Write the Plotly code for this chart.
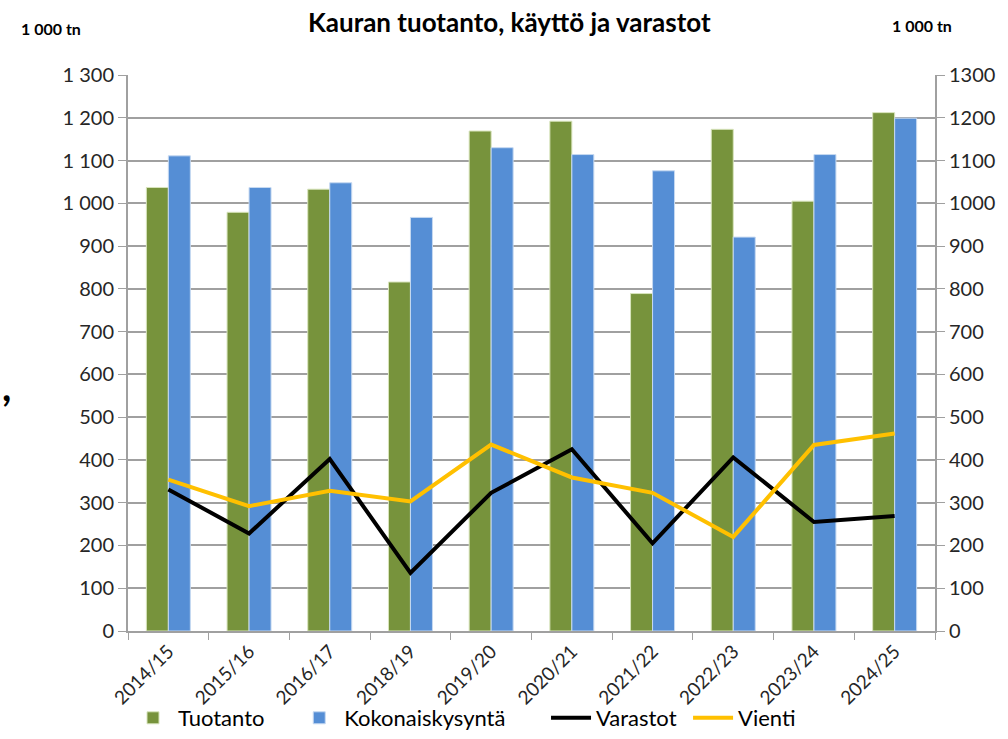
import plotly.graph_objects as go

# kauran tase, 1 000 tn
vuodet = ["2014/15", "2015/16", "2016/17", "2018/19", "2019/20",
          "2020/21", "2021/22", "2022/23", "2023/24", "2024/25"]
tuotanto = [1037, 979, 1033, 816, 1169, 1192, 789, 1173, 1005, 1212]
kokonaiskysynta = [1111, 1037, 1048, 967, 1130, 1114, 1076, 921, 1114, 1199]
varastot = [331, 228, 402, 136, 323, 425, 205, 406, 255, 269]
vienti = [354, 292, 328, 303, 436, 359, 323, 220, 435, 462]

fnt = "Lato"
grey = "#a0a0a0"

fig = go.Figure()
fig.add_trace(go.Bar(x=vuodet, y=tuotanto, name="Tuotanto", legend="legend",
                     marker=dict(color="#77933C", line=dict(color="#d8e4bc", width=1))))
fig.add_trace(go.Bar(x=vuodet, y=kokonaiskysynta, name="Kokonaiskysyntä", legend="legend2",
                     marker=dict(color="#558ED5", line=dict(color="#c6d9f1", width=1))))
fig.add_trace(go.Scatter(x=vuodet, y=varastot, name="Varastot", mode="lines", legend="legend3",
                         line=dict(color="black", width=4), yaxis="y2"))
fig.add_trace(go.Scatter(x=vuodet, y=vienti, name="Vienti", mode="lines", legend="legend4",
                         line=dict(color="#FFC000", width=4), yaxis="y2"))

def leg(x):
    return dict(orientation="h", x=x, xanchor="left", yref="container", y=-0.024,
                yanchor="bottom", font=dict(size=22, color="black"), itemwidth=40,
                bgcolor="rgba(0,0,0,0)")

fig.update_layout(
    width=1008, height=739,
    margin=dict(l=128, r=73, t=75, b=108),
    paper_bgcolor="white", plot_bgcolor="white",
    font=dict(family=fnt, color="#262626", size=20),
    separators=". ",
    barmode="group", bargap=0.455, bargroupgap=0,
    showlegend=True,
    legend=leg(0.0), legend2=leg(0.206), legend3=leg(0.518), legend4=leg(0.694),
    xaxis=dict(tickangle=-45, tickson="boundaries", ticks="outside", ticklen=7,
               tickcolor=grey, showline=True, linecolor=grey, linewidth=2,
               tickfont=dict(size=19), automargin=False),
    yaxis=dict(range=[0, 1300], dtick=100, tickformat=",d", showgrid=True,
               gridcolor=grey, gridwidth=2, showline=True, linecolor=grey, linewidth=2,
               ticks="outside", ticklen=8, tickcolor=grey, zeroline=False,
               tickfont=dict(size=20)),
    yaxis2=dict(range=[0, 1300], dtick=100, tickformat="d", overlaying="y", side="right",
                showgrid=False, showline=True, linecolor=grey, linewidth=2,
                ticks="outside", ticklen=8, tickcolor=grey, zeroline=False,
                tickfont=dict(size=20)),
    annotations=[
        dict(text="<b>Kauran tuotanto, käyttö ja varastot</b>", xref="paper", yref="paper",
             x=0.473, y=1.0, yshift=53, xanchor="center", yanchor="middle",
             showarrow=False, font=dict(size=26, color="black")),
        dict(text="<b>1 000 tn</b>", xref="paper", yref="paper", x=-0.095, y=1.0,
             yshift=47, xanchor="center", yanchor="middle", showarrow=False,
             font=dict(size=16, color="black")),
        dict(text="<b>1 000 tn</b>", xref="paper", yref="paper", x=0.984, y=1.0,
             yshift=50, xanchor="center", yanchor="middle", showarrow=False,
             font=dict(size=16, color="black")),
        dict(text="<b>,</b>", xref="paper", yref="paper", x=-0.150, y=0.44,
             xanchor="center", yanchor="middle", showarrow=False,
             font=dict(size=40, color="black")),
    ],
)

fig.write_html("out.html", config={"displayModeBar": False},
               post_script="document.body.style.margin='0';")
